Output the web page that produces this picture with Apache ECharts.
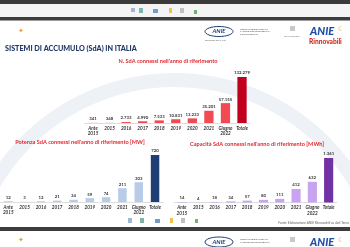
<!DOCTYPE html>
<html><head><meta charset="utf-8">
<script src="https://cdn.jsdelivr.net/npm/echarts@6/dist/echarts.min.js"></script>
<style>html,body{margin:0;padding:0;background:#fff}#c{width:350px;height:247px}</style>
</head><body><div id="c"></div>
<script>
const categories = ["Ante\n2015","2015","2016","2017","2018","2019","2020","2021","Giugno\n2022","Totale"];
const numSdA = [341, 348, 2733, 4990, 7533, 10831, 13233, 35201, 57155, 132279];
const potenzaMW = [12, 3, 12, 21, 34, 59, 74, 211, 303, 720];
const capacitaMWh = [14, 4, 18, 34, 57, 80, 111, 412, 632, 1361];

const FONT = 'Lato';
function fmt(v){ return String(v).replace(/\B(?=(\d{3})+(?!\d))/g, '.'); }
function colored(arr, base, last){
  return arr.map((v,i)=>({value:v, itemStyle:{color: i===arr.length-1 ? last : base}}));
}
const chart = echarts.init(document.getElementById('c'), null, {renderer:'canvas'});
const grids = [
  {left:84.7, width:165.6, top:77, height:46},
  {left:-1.2, width:164.4, top:155, height:47},
  {left:173.8, width:163, top:158, height:44.5}
];
const xAxes = grids.map((g,i)=>({
  type:'category', gridIndex:i, data:categories,
  axisLine:{lineStyle:{color:'#c8c8c8', width:0.6}},
  axisTick:{show:false},
  axisLabel:{fontFamily:FONT, fontSize:4.6, fontStyle:'italic', fontWeight:'bold', color:'#333', lineHeight:5.6, margin:2.5, interval:0}
}));
const maxes = [132279, 720, 1361];
const yAxes = grids.map((g,i)=>({type:'value', gridIndex:i, min:0, max:maxes[i], show:false, splitLine:{show:false}}));
const lbl = {show:true, position:'top', distance:2, fontFamily:FONT, fontSize:4.3, fontWeight:'bold', color:'#333', formatter:p=>fmt(p.value)};
const series = [
  {type:'bar', xAxisIndex:0, yAxisIndex:0, barWidth:'56%', data:colored(numSdA,'#f24a52','#c0001c'), label:lbl},
  {type:'bar', xAxisIndex:1, yAxisIndex:1, barWidth:'52%', data:colored(potenzaMW,'#b8cbe8','#1f3f74'), label:lbl},
  {type:'bar', xAxisIndex:2, yAxisIndex:2, barWidth:'56%', data:colored(capacitaMWh,'#c8a3f0','#7232a6'), label:lbl}
];
const titleStyle = {fontFamily:FONT, fontSize:5.6, fontWeight:'bold', fill:'#e0282e', textAlign:'center', textVerticalAlign:'middle'};
const graphic = [
  {type:'arc', shape:{cx:175, cy:290, r:210, startAngle:Math.PI*1.12, endAngle:Math.PI*1.88}, style:{stroke:'#eef2f7', lineWidth:14, fill:null}, z:-10},
  {type:'rect', shape:{x:0,y:0,width:350,height:4}, style:{fill:'#3a3a3a'}},
  {type:'rect', shape:{x:0,y:4,width:350,height:13}, style:{fill:'#f4f4f4'}},
  {type:'rect', shape:{x:0,y:17,width:350,height:3.5}, style:{fill:'#3d3d3d'}},
  {type:'rect', shape:{x:131,y:8,width:4,height:4}, style:{fill:'#9fb8d8'}},
  {type:'rect', shape:{x:139,y:8,width:4,height:5}, style:{fill:'#7fb4a8'}},
  {type:'rect', shape:{x:153,y:9,width:5,height:4}, style:{fill:'#6f9fc8'}},
  {type:'rect', shape:{x:169,y:8,width:3,height:5}, style:{fill:'#f0c050'}},
  {type:'rect', shape:{x:180,y:8,width:4,height:5}, style:{fill:'#c0c0c0'}},
  {type:'rect', shape:{x:194,y:10,width:3,height:4}, style:{fill:'#70b070'}},
  {type:'text', style:{x:21, y:31, text:'✦', fontSize:7, fill:'#e8a040', textAlign:'center', textVerticalAlign:'middle'}},
  {type:'ellipse', shape:{cx:219, cy:31.5, rx:14, ry:5}, style:{stroke:'#1f3f74', lineWidth:1, fill:'#fff'}},
  {type:'text', style:{x:219, y:31.5, text:'ANIE', fontFamily:FONT, fontSize:6, fontWeight:'bold', fontStyle:'italic', fill:'#1f3f74', textAlign:'center', textVerticalAlign:'middle'}},
  {type:'text', style:{x:240, y:31.5, text:'FEDERAZIONE NAZIONALE\nIMPRESE ELETTROTECNICHE\nE ELETTRONICHE', fontFamily:FONT, fontSize:2.2, lineHeight:2.5, fill:'#555', textVerticalAlign:'middle'}},
  {type:'text', style:{x:205, y:40.5, text:'Tecnologie per la Vita', fontFamily:FONT, fontSize:2.2, fill:'#666', textVerticalAlign:'middle'}},
  {type:'rect', shape:{x:290,y:26,width:5,height:5}, style:{fill:'#c9c9c9'}},
  {type:'text', style:{x:292, y:36, text:'CONFINDUSTRIA', fontFamily:FONT, fontSize:2, fill:'#666', textAlign:'center', textVerticalAlign:'middle'}},
  {type:'text', style:{x:310, y:31, text:'ANIE', fontFamily:FONT, fontSize:11, fontWeight:'900', fontStyle:'italic', fill:'#1f4ea8', textVerticalAlign:'middle'}},
  {type:'text', style:{x:341, y:29, text:'☾', fontSize:7, fill:'#f0a020', textAlign:'center', textVerticalAlign:'middle'}},
  {type:'text', style:{x:309, y:41.5, text:'Rinnovabili', fontFamily:FONT, fontSize:6.6, fontWeight:'900', fill:'#d12a20', textVerticalAlign:'middle'}},
  {type:'text', style:{x:5, y:48.5, text:'SISTEMI DI ACCUMULO (SdA) IN ITALIA', fontFamily:FONT, fontSize:7.2, fontWeight:'900', fill:'#1f3864', textVerticalAlign:'middle'}},
  {type:'text', style:Object.assign({x:168, y:61.5, text:"N. SdA connessi nell'anno di riferimento"}, titleStyle)},
  {type:'text', style:Object.assign({x:80, y:142, text:"Potenza SdA connessi nell'anno di riferimento [MW]"}, titleStyle)},
  {type:'text', style:Object.assign({x:257, y:144, text:"Capacità SdA connessi nell'anno di riferimento [MWh]"}, titleStyle)},
  {type:'text', style:{x:349, y:223, text:'Fonte: Elaborazione ANIE Rinnovabili su dati Terna', fontFamily:FONT, fontSize:3.4, fontStyle:'italic', fill:'#666', textAlign:'right', textVerticalAlign:'middle'}},
  {type:'rect', shape:{x:128,y:218,width:4,height:5}, style:{fill:'#9fb8d8'}},
  {type:'rect', shape:{x:140,y:218,width:4,height:5}, style:{fill:'#7fb4a8'}},
  {type:'rect', shape:{x:155,y:219,width:5,height:4}, style:{fill:'#6f9fc8'}},
  {type:'rect', shape:{x:170,y:218,width:3,height:5}, style:{fill:'#f0c050'}},
  {type:'rect', shape:{x:181,y:218,width:4,height:5}, style:{fill:'#c0c0c0'}},
  {type:'rect', shape:{x:195,y:219,width:3,height:4}, style:{fill:'#70b070'}},
  {type:'rect', shape:{x:0,y:227,width:350,height:4}, style:{fill:'#3d3d3d'}},
  {type:'text', style:{x:21, y:240, text:'✦', fontSize:7, fill:'#e8a040', textAlign:'center', textVerticalAlign:'middle'}},
  {type:'ellipse', shape:{cx:219, cy:242, rx:14, ry:5}, style:{stroke:'#1f3f74', lineWidth:1, fill:'#fff'}},
  {type:'text', style:{x:219, y:242, text:'ANIE', fontFamily:FONT, fontSize:6, fontWeight:'bold', fontStyle:'italic', fill:'#1f3f74', textAlign:'center', textVerticalAlign:'middle'}},
  {type:'text', style:{x:240, y:241, text:'FEDERAZIONE NAZIONALE\nIMPRESE ELETTROTECNICHE', fontFamily:FONT, fontSize:2.2, lineHeight:2.5, fill:'#555', textVerticalAlign:'middle'}},
  {type:'rect', shape:{x:290,y:237,width:5,height:5}, style:{fill:'#c9c9c9'}},
  {type:'text', style:{x:310, y:242, text:'ANIE', fontFamily:FONT, fontSize:11, fontWeight:'900', fontStyle:'italic', fill:'#1f4ea8', textVerticalAlign:'middle'}},
  {type:'text', style:{x:341, y:240, text:'☾', fontSize:7, fill:'#f0a020', textAlign:'center', textVerticalAlign:'middle'}}
];
chart.setOption({
  animation:false,
  backgroundColor:'#fff',
  grid:grids.map(g=>Object.assign({containLabel:false}, g)),
  xAxis:xAxes, yAxis:yAxes, series:series, graphic:graphic
});
</script></body></html>
